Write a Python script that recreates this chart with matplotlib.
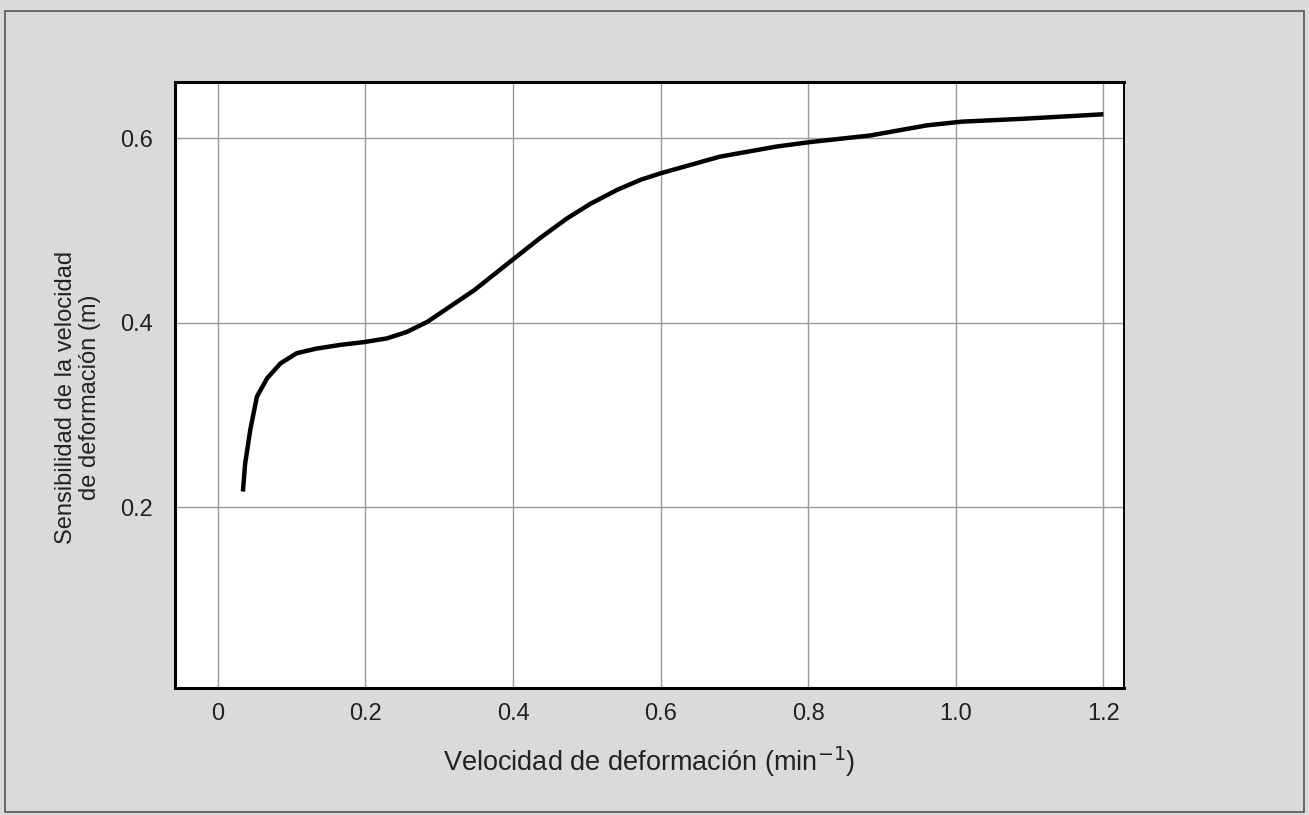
import matplotlib.pyplot as plt
from matplotlib.patches import Rectangle

# Curve
strain_rate = [0.034, 0.037, 0.044, 0.053, 0.067, 0.085, 0.107, 0.134, 0.166,
               0.198, 0.229, 0.256, 0.284, 0.347, 0.399, 0.437, 0.473,
               0.505, 0.541, 0.573, 0.600, 0.640, 0.680, 0.757, 0.804, 0.884,
               0.961, 1.008, 1.088, 1.200]
sensitivity = [0.217, 0.247, 0.284, 0.320, 0.340, 0.356, 0.367, 0.372, 0.376,
               0.379, 0.383, 0.390, 0.401, 0.435, 0.468, 0.492, 0.513,
               0.529, 0.544, 0.555, 0.562, 0.571, 0.580, 0.591, 0.596, 0.603,
               0.614, 0.618, 0.621, 0.626]

x_ticks = [0, 0.2, 0.4, 0.6, 0.8, 1.0, 1.2]
x_tick_labels = ["0", "0.2", "0.4", "0.6", "0.8", "1.0", "1.2"]
y_ticks = [0.2, 0.4, 0.6]
y_tick_labels = ["0.2", "0.4", "0.6"]

plt.rcParams["font.family"] = ["Liberation Sans", "DejaVu Sans"]

fig = plt.figure(figsize=(13.09, 8.15), dpi=100, facecolor="#dadada")
# outer frame of the scanned page
fig.patches.append(Rectangle((0.004, 0.004), 0.992, 0.982, transform=fig.transFigure,
                             fill=False, edgecolor="#555555", linewidth=1.2))

ax = fig.add_axes([0.1337, 0.1558, 0.725, 0.7436])
ax.set_facecolor("white")
ax.plot(strain_rate, sensitivity, color="black", linewidth=3.2,
        solid_joinstyle="round", solid_capstyle="butt")

ax.set_xlim(-0.058, 1.228)
ax.set_ylim(0.004, 0.661)
ax.set_xticks(x_ticks)
ax.set_xticklabels(x_tick_labels)
ax.set_yticks(y_ticks)
ax.set_yticklabels(y_tick_labels)
ax.tick_params(length=0, labelsize=17, colors="#222222")
ax.tick_params(axis="y", pad=16)
ax.tick_params(axis="x", pad=11)
ax.grid(True, color="#9a9a9a", linewidth=1.0)
ax.set_axisbelow(True)

for side in ["left", "bottom", "top"]:
    ax.spines[side].set_linewidth(2.2)
ax.spines["right"].set_linewidth(1.4)

ax.set_xlabel("Velocidad de deformación (min$^{-1}$)", fontsize=19.5, labelpad=14,
              color="#222222")
ax.set_ylabel("Sensibilidad de la velocidad\nde deformación (m)", fontsize=17,
              color="#222222", linespacing=1.1)
ax.yaxis.set_label_coords(-0.078, 0.48)

plt.savefig("out.png", dpi=100, facecolor=fig.get_facecolor())
